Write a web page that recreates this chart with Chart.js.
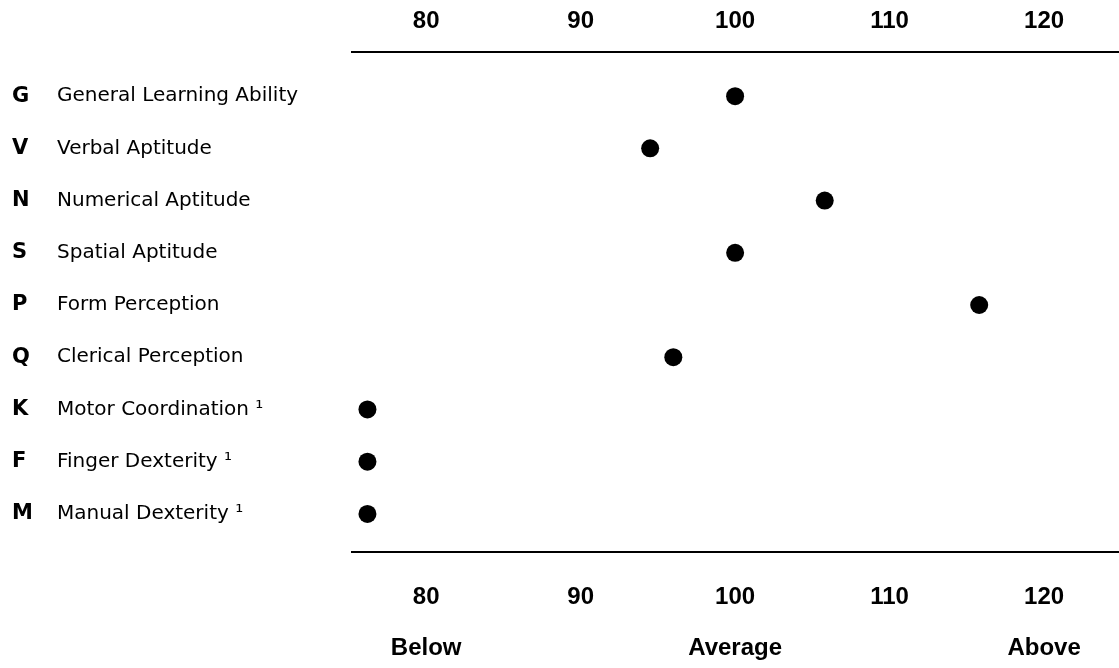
<!DOCTYPE html>
<html>
<head>
<meta charset="utf-8">
<script src="https://cdn.jsdelivr.net/npm/chart.js@4/dist/chart.umd.min.js"></script>
<style>
  html, body { margin: 0; padding: 0; background: #fff; }
  #wrap { width: 1119px; height: 668px; position: relative; }
</style>
</head>
<body>
<div id="wrap"><canvas id="aptChart"></canvas></div>
<script>
// --- Data ---
const codes = ['G', 'V', 'N', 'S', 'P', 'Q', 'K', 'F', 'M'];
const abilities = [
    'General Learning Ability',
    'Verbal Aptitude',
    'Numerical Aptitude',
    'Spatial Aptitude',
    'Form Perception',
    'Clerical Perception',
    'Motor Coordination \u00b9',
    'Finger Dexterity \u00b9',
    'Manual Dexterity \u00b9'
];
const scores = [100, 94.5, 105.8, 100, 115.8, 96, 76.2, 76.2, 76.2];
const scoreTicks = [80, 90, 100, 110, 120];
const ratingWords = ['Below', 'Average', 'Above'];
const ratingAt = [80, 100, 120];

// skala dibuat sama untuk atas & bawah
const xMin = 75.2, xMax = 124.85;
const yMin = -0.845, yMax = 8.73;

Chart.defaults.color = '#000';

const numFont = { family: 'Liberation Sans, Arial, sans-serif', size: 24, weight: 'bold' };

function setTicks(values) {
    return scale => { scale.ticks = values.map(v => ({ value: v })); };
}

const rowTicks = codes.map((_, i) => i);

new Chart(document.getElementById('aptChart'), {
    type: 'scatter',
    data: {
        datasets: [{
            data: scores.map((s, i) => ({ x: s, y: i })),
            backgroundColor: '#000',
            borderWidth: 0,
            pointRadius: 9,
            pointHoverRadius: 9
        }]
    },
    options: {
        responsive: true,
        maintainAspectRatio: false,
        animation: false,
        layout: { autoPadding: false, padding: { left: 12, right: 0, top: 0, bottom: 0 } },
        plugins: { legend: { display: false }, tooltip: { enabled: false } },
        scales: {
            x: {
                type: 'linear', position: 'bottom', min: xMin, max: xMax,
                afterBuildTicks: setTicks(scoreTicks),
                afterFit: s => { s.height = 78; },
                grid: { display: false, drawTicks: false },
                border: { display: true, color: '#000', width: 2 },
                ticks: { font: numFont, padding: 31, maxRotation: 0, autoSkip: false }
            },
            xWords: {
                type: 'linear', position: 'bottom', weight: 5, display: true,
                min: xMin, max: xMax,
                afterBuildTicks: setTicks(ratingAt),
                afterFit: s => { s.height = 38; },
                grid: { display: false, drawTicks: false },
                border: { display: false },
                ticks: {
                    font: { family: 'Liberation Sans, Arial, sans-serif', size: 24, weight: 'bold' },
                    padding: 4, maxRotation: 0, autoSkip: false,
                    callback: v => ratingWords[ratingAt.indexOf(v)]
                }
            },
            xTop: {
                type: 'linear', position: 'top', display: true, min: xMin, max: xMax,
                afterBuildTicks: setTicks(scoreTicks),
                afterFit: s => { s.height = 52; },
                grid: { display: false, drawTicks: false },
                border: { display: true, color: '#000', width: 2 },
                ticks: { font: numFont, padding: 16, maxRotation: 0, autoSkip: false }
            },
            y: {
                type: 'linear', position: 'left', reverse: true, min: yMin, max: yMax,
                afterBuildTicks: setTicks(rowTicks),
                afterFit: s => { s.width = 295; },
                grid: { display: false, drawTicks: false },
                border: { display: false },
                ticks: {
                    crossAlign: 'far', padding: 0, autoSkip: false,
                    font: { family: 'DejaVu Sans, sans-serif', size: 20 },
                    callback: v => abilities[v]
                }
            },
            yCode: {
                type: 'linear', position: 'left', weight: 5, display: true,
                reverse: true, min: yMin, max: yMax,
                afterBuildTicks: setTicks(rowTicks),
                afterFit: s => { s.width = 45; },
                grid: { display: false, drawTicks: false },
                border: { display: false },
                ticks: {
                    crossAlign: 'far', padding: 0, autoSkip: false,
                    font: { family: 'DejaVu Sans, sans-serif', size: 21, weight: 'bold' },
                    callback: v => codes[v]
                }
            }
        }
    }
});
</script>
</body>
</html>
